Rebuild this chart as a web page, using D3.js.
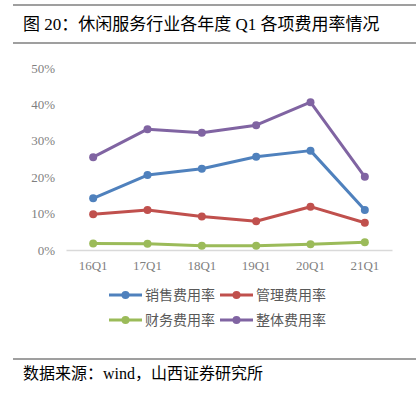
<!DOCTYPE html>
<html><head><meta charset="utf-8">
<script src="https://cdn.jsdelivr.net/npm/d3@7/dist/d3.min.js"></script>
<style>body{margin:0;background:#fff;}svg{display:block;}</style>
</head><body>
<script>
const categories = ["16Q1","17Q1","18Q1","19Q1","20Q1","21Q1"];
const seriesNames = ["销售费用率","管理费用率","财务费用率","整体费用率"];
const salesRate = [14.2, 20.6, 22.3, 25.6, 27.3, 11.0];
const adminRate = [9.8, 11.0, 9.2, 7.9, 11.9, 7.5];
const financeRate = [1.8, 1.7, 1.2, 1.2, 1.6, 2.1];
const totalRate = [25.5, 33.2, 32.2, 34.3, 40.6, 20.1];
const yTicks = [0, 10, 20, 30, 40, 50];
const colors = ["#4F81BD", "#C0504D", "#9BBB59", "#8064A2"];
const seriesValues = [salesRate, adminRate, financeRate, totalRate];

const W = 416, H = 393;
const font = "'Liberation Serif','Noto Sans CJK SC',serif";
const svg = d3.select("body").append("svg").attr("width", W).attr("height", H);

// header / footer rules
svg.append("line").attr("x1",13).attr("x2",416).attr("y1",5).attr("y2",5).attr("stroke","#7f7f7f").attr("stroke-width",1.5);
svg.append("line").attr("x1",13).attr("x2",416).attr("y1",43).attr("y2",43).attr("stroke","#7f7f7f").attr("stroke-width",1.5);
svg.append("line").attr("x1",13).attr("x2",416).attr("y1",359).attr("y2",359).attr("stroke","#7f7f7f").attr("stroke-width",1.5);

svg.append("text").attr("x",23).attr("y",30).attr("font-family",font).attr("font-size",17).attr("fill","#000")
  .text("图 20：休闲服务行业各年度 Q1 各项费用率情况");
svg.append("text").attr("x",23).attr("y",379).attr("font-family",font).attr("font-size",16).attr("fill","#000")
  .text("数据来源：wind，山西证券研究所");

const x = d3.scaleBand().domain(categories).range([66, 392]);
const y = d3.scaleLinear().domain([0, 50]).range([250, 68]);

// y axis labels
const yAxis = d3.axisLeft(y).tickValues(yTicks).tickFormat(d => d + "%").tickSize(0).tickPadding(0);
const ya = svg.append("g").attr("transform","translate(55,0)").call(yAxis);
ya.select(".domain").remove();
ya.selectAll("text").attr("font-family",font).attr("font-size",13).attr("fill","#7f7f7f");

// x axis
const xAxis = d3.axisBottom(x).tickSize(0).tickPadding(11);
const xa = svg.append("g").attr("transform","translate(0,250)").call(xAxis);
xa.select(".domain").attr("stroke","#d9d9d9").attr("stroke-width",1.5);
xa.selectAll("text").attr("font-family",font).attr("font-size",13).attr("fill","#7f7f7f");

const line = d3.line().x((d,i) => x(categories[i]) + x.bandwidth()/2).y(d => y(d));
seriesValues.forEach((vals, s) => {
  svg.append("path").attr("d", line(vals)).attr("fill","none").attr("stroke",colors[s]).attr("stroke-width",3).attr("stroke-linejoin","round");
  svg.selectAll(null).data(vals).enter().append("circle")
    .attr("cx",(d,i) => x(categories[i]) + x.bandwidth()/2).attr("cy", d => y(d)).attr("r",4).attr("fill",colors[s]);
});

// legend
const legPos = [[109,295],[220,295],[109,320],[220,320]];
seriesNames.forEach((n, s) => {
  const [lx, ly] = legPos[s];
  const g = svg.append("g");
  g.append("line").attr("x1",lx).attr("x2",lx+33).attr("y1",ly).attr("y2",ly).attr("stroke",colors[s]).attr("stroke-width",3);
  g.append("circle").attr("cx",lx+16.5).attr("cy",ly).attr("r",4).attr("fill",colors[s]);
  g.append("text").attr("x",lx+36).attr("y",ly+5).attr("font-family",font).attr("font-size",14).attr("fill","#595959").text(n);
});
</script>
</body></html>
